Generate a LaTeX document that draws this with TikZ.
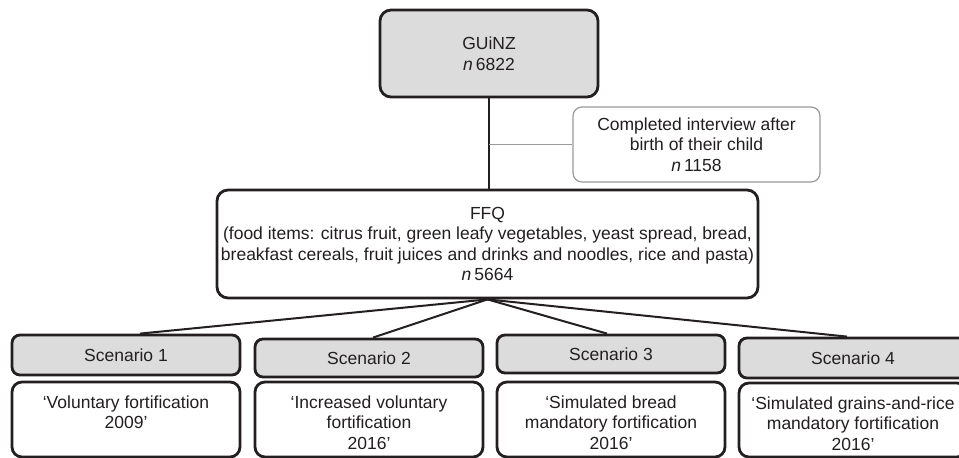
\documentclass[tikz,border=0pt]{standalone}
\usepackage{fontspec}
\setmainfont{Liberation Sans}
\definecolor{boxgray}{HTML}{DCDCDC}
\definecolor{txt}{HTML}{231F20}
\definecolor{thin}{HTML}{9A9A9A}
\begin{document}
\begin{tikzpicture}[x=1pt,y=-1pt,
  every node/.style={font=\fontsize{17.5}{20.5}\selectfont, text=txt, align=center},
  blackbox/.style={draw=txt, line width=2.8pt, rounded corners=11pt, inner sep=0pt},
  graybox/.style={blackbox, fill=boxgray},
  interviewbox/.style={draw=thin, line width=1.2pt, rounded corners=9pt, fill=white, inner sep=0pt},
  conn/.style={draw=txt, line width=2pt},
  thinconn/.style={draw=thin, line width=1.2pt},
  plaintext/.style={inner sep=0pt, anchor=north}
]
\clip (0,0) rectangle (959,458);
\fill[white] (0,0) rectangle (959,458);

% top box
\node[graybox, minimum width=218, minimum height=87] (guinz) at (489,53.5) {GUiNZ\\\textit{n}\,6822};
% FFQ box
\node[blackbox, fill=white, minimum width=541, minimum height=108] (ffq) at (487.5,244)
  {FFQ\\(food items: citrus fruit, green leafy vegetables, yeast spread, bread,\\breakfast cereals, fruit juices and drinks and noodles, rice and pasta)\\\textit{n}\,5664};
% interview box
\node[interviewbox, minimum width=247, minimum height=75] (interview) at (696.5,144.5)
  {Completed interview after\\birth of their child\\\textit{n}\,1158};

% connectors top
\draw[conn] (guinz.south) -- (guinz.south |- ffq.north);
\coordinate (j) at (guinz.south |- interview.west);
\draw[thinconn] (j) -- (interview.west);

% scenario boxes
\node[graybox, rounded corners=8pt, minimum width=228, minimum height=40] (s1) at (126,355) {Scenario 1};
\node[graybox, rounded corners=8pt, minimum width=228, minimum height=38] (s2) at (369,358) {Scenario 2};
\node[graybox, rounded corners=8pt, minimum width=228, minimum height=38] (s3) at (611,354) {Scenario 3};
\node[graybox, rounded corners=8pt, minimum width=228, minimum height=40] (s4) at (853,358) {Scenario 4};

% description boxes
\node[blackbox, rounded corners=10pt, minimum width=228, minimum height=75] (d1) at (126,419.5) {};
\node[blackbox, rounded corners=10pt, minimum width=228, minimum height=75] (d2) at (369,419.5) {};
\node[blackbox, rounded corners=10pt, minimum width=228, minimum height=75] (d3) at (611,419.5) {};
\node[blackbox, rounded corners=10pt, minimum width=228, minimum height=74] (d4) at (853,420) {};

\node[plaintext] (t1) at ([yshift=-15]d1.north) {‘Voluntary fortification\\2009’};
\node[plaintext] (t2) at ([yshift=-15]d2.north) {‘Increased voluntary\\fortification\\2016’};
\node[plaintext] (t3) at ([yshift=-15]d3.north) {‘Simulated bread\\mandatory fortification\\2016’};
\node[plaintext] (t4) at ([yshift=-15]d4.north) {‘Simulated grains-and-rice\\mandatory fortification\\2016’};

% connectors bottom
\draw[conn] (ffq.south) -- ([xshift=14]s1.north);
\draw[conn] (ffq.south) -- ([xshift=4]s2.north);
\draw[conn] (ffq.south) -- ([xshift=-4]s3.north);
\draw[conn] (ffq.south) -- ([xshift=-6]s4.north);
\end{tikzpicture}
\end{document}
